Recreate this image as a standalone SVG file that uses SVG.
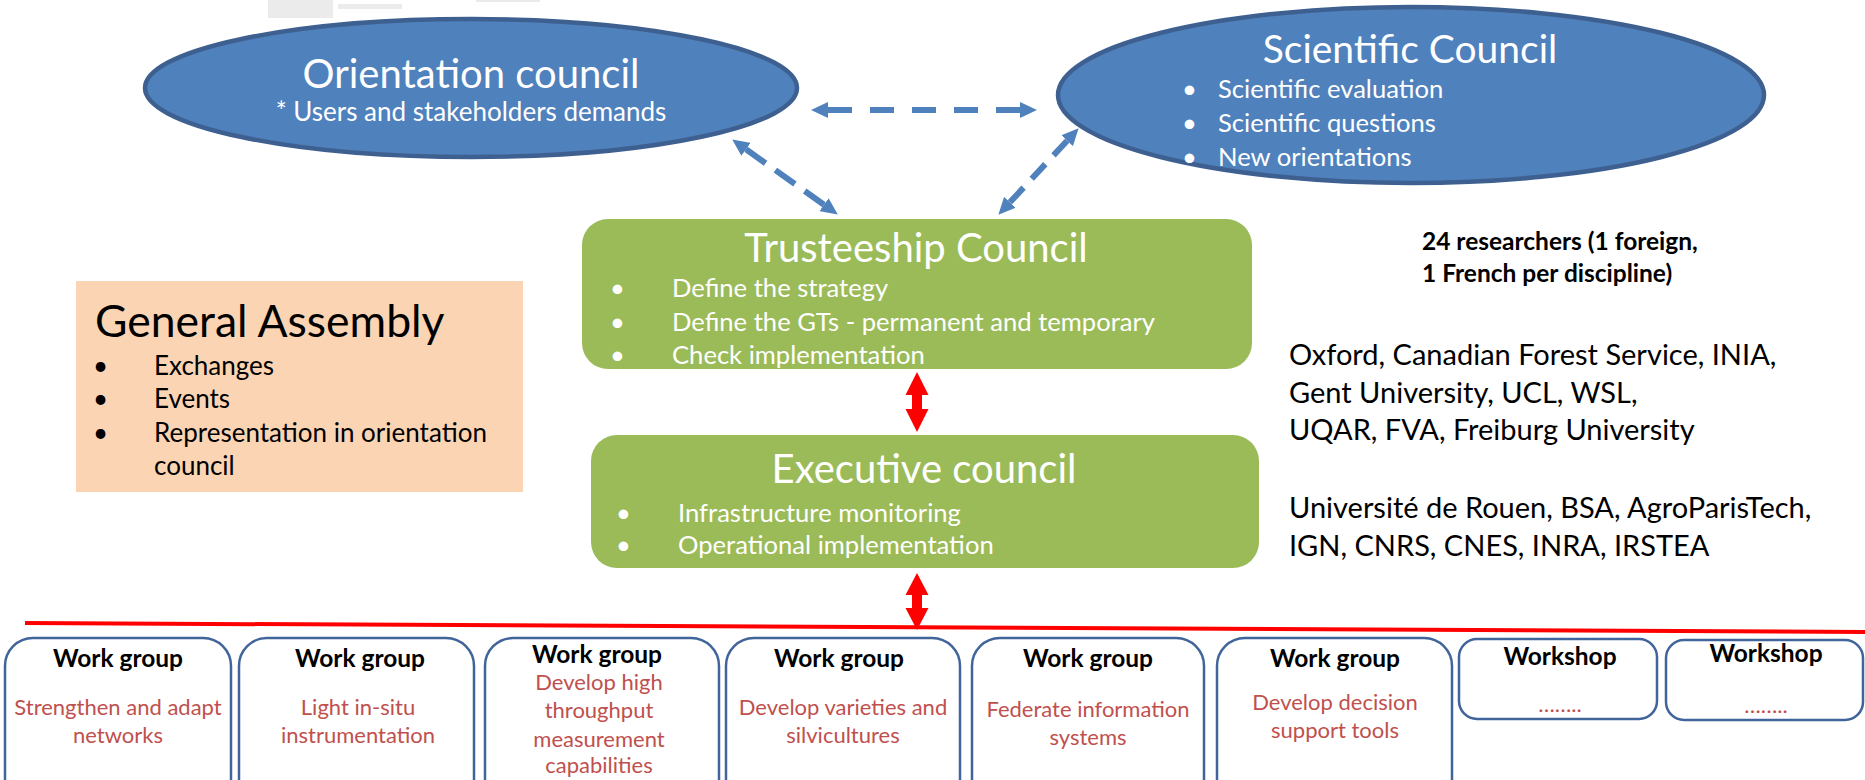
<svg xmlns="http://www.w3.org/2000/svg" width="1865" height="780" viewBox="0 0 1865 780">
<style>
text{font-family:Lato,"Liberation Sans",sans-serif}
.ell{fill:#4F81BD;stroke:#3E6090;stroke-width:4.5}
.grn{fill:#9BBB59}
.wt{fill:#fff}
.ttl{font-size:40px;text-anchor:middle}
.body{font-size:25.6px}
.wg{fill:#fff;stroke:#41649A;stroke-width:2.5}
.wgt{font-size:24.5px;font-weight:bold;text-anchor:middle;fill:#000}
.red{font-size:22px;fill:#C0504D;text-anchor:middle}
.blk{font-size:29px;fill:#000}
.dash{stroke:#4F81BD;stroke-width:6;fill:none;marker-start:url(#ah);marker-end:url(#ah)}
.rarr{fill:#FF0000}
</style>
<defs>
<marker id="ah" markerUnits="userSpaceOnUse" markerWidth="18" markerHeight="16" refX="0" refY="7.5" orient="auto-start-reverse" viewBox="0 0 17 15">
<path d="M0,0 L16,7.5 L0,15 z" fill="#4F81BD"/>
</marker>
</defs>
<rect width="1865" height="780" fill="#fff"/>
<g id="artifacts" fill="#EBEBEB">
<rect x="268" y="0" width="65" height="18"/>
<rect x="338" y="4" width="64" height="5"/>
<rect x="476" y="0" width="64" height="2"/>
</g>
<g id="orientation-council">
<ellipse class="ell" cx="471" cy="88" rx="326" ry="69"/>
<text class="ttl wt" x="471" y="88">Orientation council</text>
<text class="wt" x="471" y="121" font-size="26" text-anchor="middle">* Users and stakeholders demands</text>
</g>
<g id="scientific-council">
<ellipse class="ell" cx="1411" cy="95" rx="353" ry="88"/>
<text class="wt" x="1410" y="63" font-size="39" text-anchor="middle">Scientific Council</text>
<g class="body wt">
<text x="1182" y="98">•</text><text x="1218" y="98">Scientific evaluation</text>
<text x="1182" y="132">•</text><text x="1218" y="132">Scientific questions</text>
<text x="1182" y="166">•</text><text x="1218" y="166">New orientations</text>
</g>
</g>
<g id="trusteeship-council">
<rect class="grn" x="582" y="219" width="670" height="150" rx="26"/>
<text class="ttl wt" x="916" y="262">Trusteeship Council</text>
<g class="body wt">
<text x="610" y="297">•</text><text x="672" y="297">Define the strategy</text>
<text x="610" y="331">•</text><text x="672" y="331">Define the GTs - permanent and temporary</text>
<text x="610" y="364">•</text><text x="672" y="364">Check implementation</text>
</g>
</g>
<g id="executive-council">
<rect class="grn" x="591" y="435" width="668" height="133" rx="26"/>
<text class="ttl wt" x="924" y="483">Executive council</text>
<g class="body wt">
<text x="616" y="522">•</text><text x="678" y="522">Infrastructure monitoring</text>
<text x="616" y="554">•</text><text x="678" y="554">Operational implementation</text>
</g>
</g>
<g id="general-assembly">
<rect x="76" y="281" width="447" height="211" fill="#FBD4B4"/>
<text x="95" y="337" font-size="44.5" fill="#000">General Assembly</text>
<g font-size="26" fill="#000">
<text x="93" y="375">•</text><text x="154" y="375">Exchanges</text>
<text x="93" y="408">•</text><text x="154" y="408">Events</text>
<text x="93" y="442">•</text><text x="154" y="442">Representation in orientation</text>
<text x="154" y="475">council</text>
</g>
</g>
<g id="notes">
<text x="1422" y="250" font-size="24.5" font-weight="bold" fill="#000">24 researchers (1 foreign,</text>
<text x="1422" y="282" font-size="24.5" font-weight="bold" fill="#000">1 French per discipline)</text>
<text class="blk" x="1289" y="365">Oxford, Canadian Forest Service, INIA,</text>
<text class="blk" x="1289" y="403">Gent University, UCL, WSL,</text>
<text class="blk" x="1289" y="440">UQAR, FVA, Freiburg University</text>
<text class="blk" x="1289" y="518">Université de Rouen, BSA, AgroParisTech,</text>
<text class="blk" x="1289" y="556">IGN, CNRS, CNES, INRA, IRSTEA</text>
</g>
<g id="connectors">
<line class="dash" x1="828" y1="110" x2="1020" y2="110" stroke-dasharray="24 18"/>
<line class="dash" x1="746" y1="149.3" x2="824" y2="204.7" stroke-dasharray="24 12"/>
<line class="dash" x1="1067.1" y1="140.7" x2="1009.9" y2="202.3" stroke-dasharray="20 12"/>
<polygon class="rarr" points="917,372 928.5,395 922,395 922,409 928.5,409 917,432 905.5,409 912,409 912,395 905.5,395"/>
<polygon class="rarr" points="917,573 928.5,595 922,595 922,608 928.5,608 917,630 905.5,608 912,608 912,595 905.5,595"/>
<line x1="25" y1="623" x2="1865" y2="632" stroke="#FF0000" stroke-width="4"/>
</g>
<g id="wg1">
<rect class="wg" x="5" y="638" width="226" height="180" rx="28"/>
<text class="wgt" x="118" y="667">Work group</text>
<text class="red" x="118" y="715">Strengthen and adapt</text>
<text class="red" x="118" y="743">networks</text>
</g>
<g id="wg2">
<rect class="wg" x="239" y="638" width="235" height="180" rx="28"/>
<text class="wgt" x="360" y="667">Work group</text>
<text class="red" x="358" y="715">Light in-situ</text>
<text class="red" x="358" y="743">instrumentation</text>
</g>
<g id="wg3">
<rect class="wg" x="485" y="638" width="234" height="180" rx="28"/>
<text class="wgt" x="597" y="663">Work group</text>
<text class="red" x="599" y="690">Develop high</text>
<text class="red" x="599" y="718">throughput</text>
<text class="red" x="599" y="747">measurement</text>
<text class="red" x="599" y="773">capabilities</text>
</g>
<g id="wg4">
<rect class="wg" x="726" y="638" width="234" height="180" rx="28"/>
<text class="wgt" x="839" y="667">Work group</text>
<text class="red" x="843" y="715">Develop varieties and</text>
<text class="red" x="843" y="743">silvicultures</text>
</g>
<g id="wg5">
<rect class="wg" x="972" y="638" width="232" height="180" rx="28"/>
<text class="wgt" x="1088" y="667">Work group</text>
<text class="red" x="1088" y="717">Federate information</text>
<text class="red" x="1088" y="745">systems</text>
</g>
<g id="wg6">
<rect class="wg" x="1217" y="638" width="235" height="180" rx="28"/>
<text class="wgt" x="1335" y="667">Work group</text>
<text class="red" x="1335" y="710">Develop decision</text>
<text class="red" x="1335" y="738">support tools</text>
</g>
<g id="ws1">
<rect class="wg" x="1459" y="639" width="198" height="80" rx="18"/>
<text class="wgt" x="1560" y="665">Workshop</text>
<text class="red" x="1560" y="712">……..</text>
</g>
<g id="ws2">
<rect class="wg" x="1666" y="640" width="197" height="80" rx="18"/>
<text class="wgt" x="1766" y="662">Workshop</text>
<text class="red" x="1766" y="713">……..</text>
</g>
</svg>
